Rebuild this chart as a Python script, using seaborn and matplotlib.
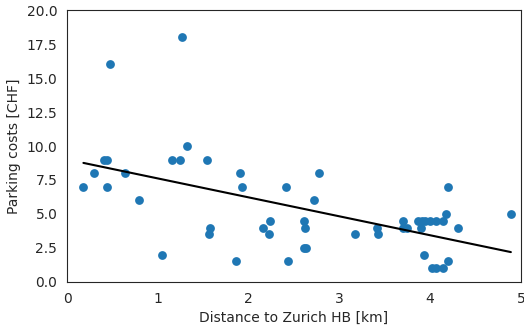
import matplotlib
matplotlib.use("Agg")
import matplotlib.pyplot as plt
import seaborn as sns
import pandas as pd

distance_km = [0.18, 0.30, 0.41, 0.44, 0.44, 0.47, 0.64, 0.79, 1.05, 1.16, 1.24, 1.27,
               1.32, 1.54, 1.57, 1.56, 1.86, 1.91, 1.93, 2.16, 2.24, 2.23, 2.41, 2.43,
               2.78, 2.72, 2.61, 2.62, 2.61, 2.63, 3.17, 3.42, 3.43, 3.70, 3.70, 3.74,
               3.87, 3.91, 3.94, 4.00, 4.07, 4.14, 3.90, 4.17, 4.20, 4.31, 3.93, 4.02,
               4.06, 4.14, 4.20, 4.89]
parking_chf = [7, 8, 9, 9, 7, 16, 8, 6, 2, 9, 9, 18,
               10, 9, 4, 3.5, 1.5, 8, 7, 4, 4.5, 3.5, 7, 1.5,
               8, 6, 4.5, 4, 2.5, 2.5, 3.5, 4, 3.5, 4.5, 4, 4,
               4.5, 4.5, 4.5, 4.5, 4.5, 4.5, 4, 5, 7, 4, 2, 1,
               1, 1, 1.5, 5]

df = pd.DataFrame({"distance": distance_km, "cost": parking_chf})

sns.set_style("white")
fig = plt.figure(figsize=(5.24, 3.27), dpi=100)
ax = fig.add_axes([0.128, 0.138, 0.866, 0.831])
sns.regplot(data=df, x="distance", y="cost", ci=None, ax=ax,
            scatter_kws={"color": "#1f77b4", "s": 40, "alpha": 1, "linewidths": 0},
            line_kws={"color": "black", "linewidth": 1.5})
ax.set_xlim(0, 5)
ax.set_ylim(0, 20)
ax.set_yticks([0, 2.5, 5, 7.5, 10, 12.5, 15, 17.5, 20])
ax.set_yticklabels(["0.0", "2.5", "5.0", "7.5", "10.0", "12.5", "15.0", "17.5", "20.0"])
ax.set_xlabel("Distance to Zurich HB [km]")
ax.set_ylabel("Parking costs [CHF]")
fig.savefig("out.png", dpi=100)
